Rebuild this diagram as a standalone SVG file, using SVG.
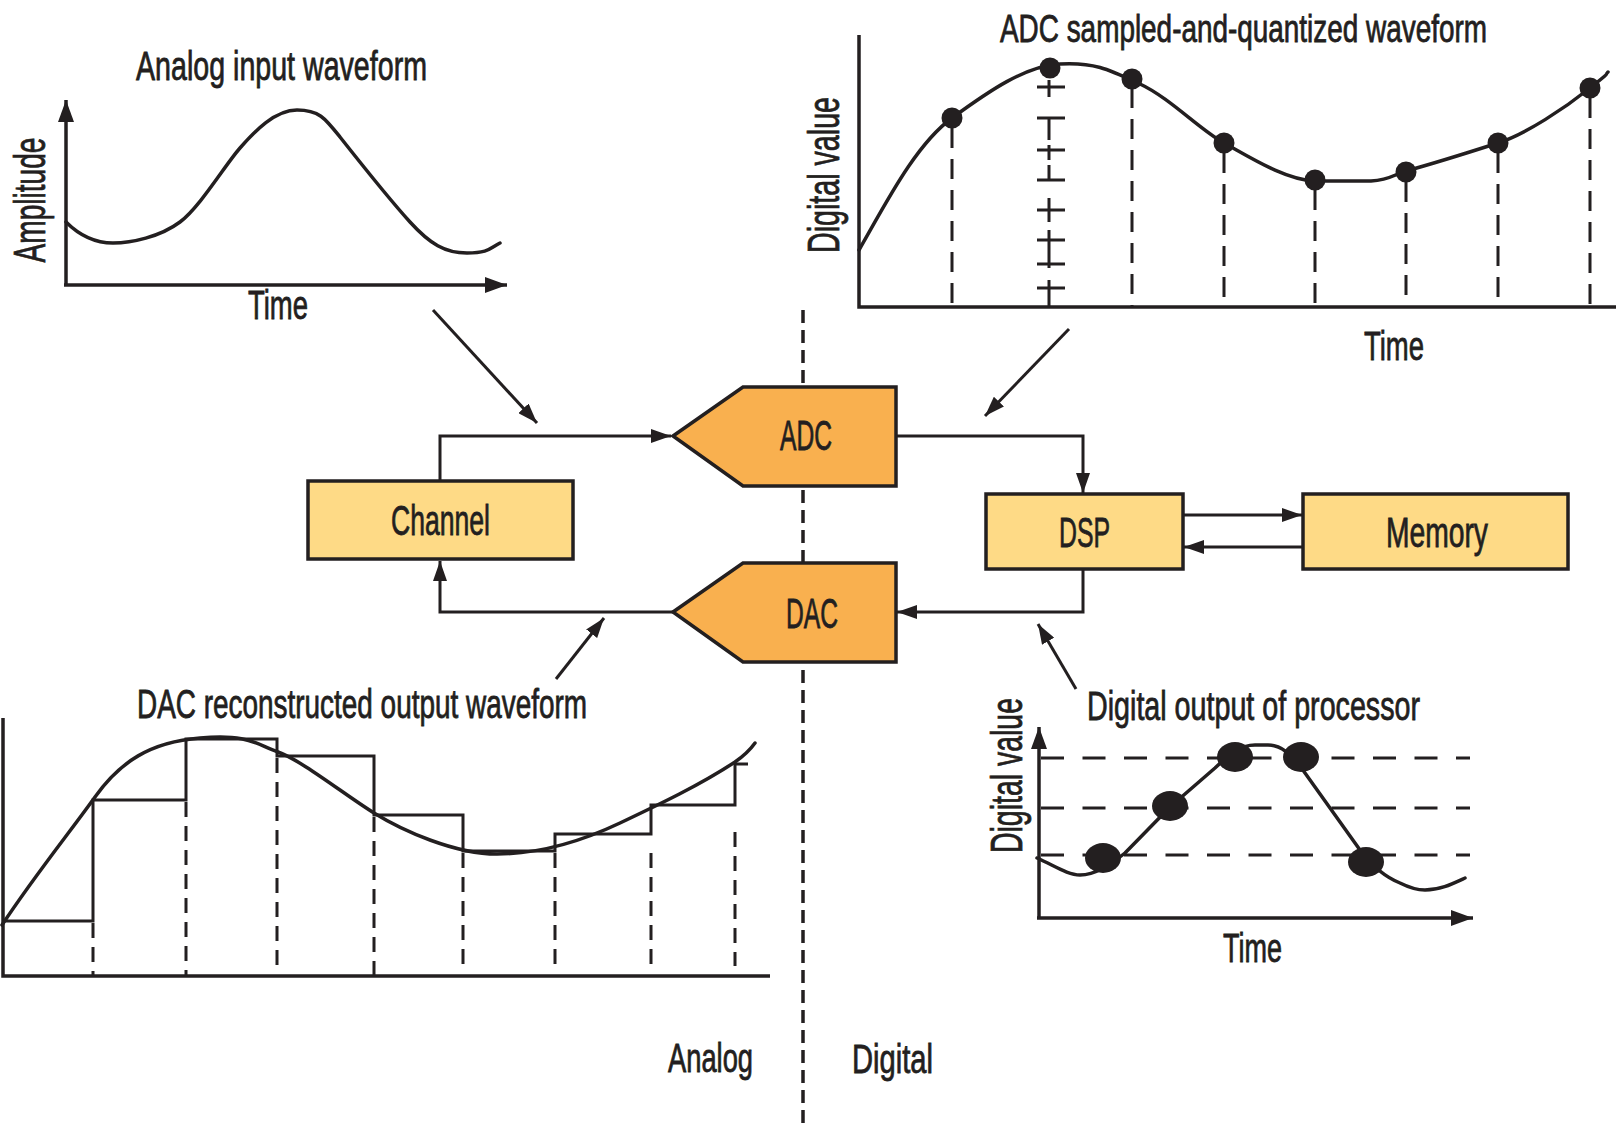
<svg xmlns="http://www.w3.org/2000/svg" width="1623" height="1124" viewBox="0 0 1623 1124">
<style>
.ln{fill:none;stroke:#231F20;stroke-width:3}
.ax{fill:none;stroke:#231F20;stroke-width:3.5}
.wv{fill:none;stroke:#231F20;stroke-width:3.5;stroke-linejoin:round;stroke-linecap:round}
.st{fill:none;stroke:#231F20;stroke-width:3;stroke-linejoin:miter}
.dv{fill:none;stroke:#231F20;stroke-width:3;stroke-dasharray:20 11}
.dd{fill:none;stroke:#231F20;stroke-width:3;stroke-dasharray:15 9}
.dh{fill:none;stroke:#231F20;stroke-width:3;stroke-dasharray:23 18.5}
.div{fill:none;stroke:#231F20;stroke-width:3.5;stroke-dasharray:13 7}
.dot{fill:#231F20}
.t{font-family:"Liberation Sans Narrow","Liberation Sans",Arial,sans-serif;fill:#231F20;stroke:#231F20;stroke-width:0.8;font-size:40px}
.tt{font-size:38px}
.tb{font-size:42px}
.tr{font-size:45px}
.box{fill:#FEDA86;stroke:#231F20;stroke-width:3.5}
.cv{fill:#F9B04F;stroke:#231F20;stroke-width:3.5;stroke-linejoin:miter}
</style>
<defs>
<marker id="arr" viewBox="0 0 20 14" refX="20" refY="7" markerWidth="20" markerHeight="14" markerUnits="userSpaceOnUse" orient="auto"><path d="M0,0 L20,7 L0,14 Z" fill="#231F20"/></marker>
<marker id="axa" viewBox="0 0 22 16" refX="22" refY="8" markerWidth="22" markerHeight="16" markerUnits="userSpaceOnUse" orient="auto"><path d="M0,0 L22,8 L0,16 Z" fill="#231F20"/></marker>
</defs>
<rect width="1623" height="1124" fill="#FFFFFF"/>

<!-- analog/digital divider -->
<g id="divider">
<line class="div" x1="803" y1="310" x2="803" y2="1124"/>
<text class="t" x="710.5" y="1072" text-anchor="middle" textLength="85" lengthAdjust="spacingAndGlyphs">Analog</text>
<text class="t" x="892.5" y="1073" text-anchor="middle" textLength="81" lengthAdjust="spacingAndGlyphs">Digital</text>
</g>

<!-- Analog input waveform graph -->
<g id="analog-input-graph">
<text class="t" x="281.5" y="80" text-anchor="middle" textLength="291" lengthAdjust="spacingAndGlyphs">Analog input waveform</text>
<path class="ax" d="M66,285 V100" marker-end="url(#axa)"/>
<path class="ax" d="M64,285 H507" marker-end="url(#axa)"/>
<path class="wv" d="M66,222 C80,236 95,243 113,243 S160,237 180,222 S225,165 240,148 S275,110 297,110 S325,118 340,137 S390,200 410,222 S445,253 467,253 S490,248 500,243"/>
<text class="t tr" transform="translate(45,200) rotate(-90)" text-anchor="middle" textLength="125" lengthAdjust="spacingAndGlyphs">Amplitude</text>
<text class="t" x="278" y="319" text-anchor="middle" textLength="60" lengthAdjust="spacingAndGlyphs">Time</text>
</g>

<!-- ADC sampled-and-quantized waveform graph -->
<g id="adc-sampled-graph">
<text class="t tt" x="1243.5" y="42" text-anchor="middle" textLength="487" lengthAdjust="spacingAndGlyphs">ADC sampled-and-quantized waveform</text>
<path class="ax" d="M859,35 V307 H1616"/>
<g>
<line class="dv" x1="952" y1="128" x2="952" y2="307"/>
<line class="dv" x1="1132" y1="88" x2="1132" y2="307"/>
<line class="dv" x1="1224" y1="153" x2="1224" y2="307"/>
<line class="dv" x1="1315" y1="190" x2="1315" y2="307"/>
<line class="dv" x1="1406" y1="182" x2="1406" y2="307"/>
<line class="dv" x1="1498" y1="153" x2="1498" y2="307"/>
<line class="dv" x1="1590" y1="98" x2="1590" y2="307"/>
</g>
<path class="ln" d="M1049,80 V97 M1049,118 V140 M1049,145 V160 M1049,165 V180 M1049,198 V222 M1049,230 V268 M1049,280 V307 M1037,87 H1065 M1037,118 H1065 M1037,150 H1065 M1037,180 H1065 M1037,210 H1065 M1037,240 H1065 M1037,264 H1065 M1037,288 H1065"/>
<path class="wv" d="M859,250 C885,205 915,145 952,118 S1025,66 1060,64 S1110,70 1140,84 S1200,130 1224,143 S1285,180 1315,181 L1371,181 C1390,180 1395,174 1406,171 S1470,152 1498,143 S1565,108 1590,88 S1603,77 1608,72"/>
<g class="dot">
<circle cx="952" cy="118" r="10.5"/>
<circle cx="1050" cy="68" r="10.5"/>
<circle cx="1132" cy="79" r="10.5"/>
<circle cx="1224" cy="143" r="10.5"/>
<circle cx="1315" cy="180" r="10.5"/>
<circle cx="1406" cy="172" r="10.5"/>
<circle cx="1498" cy="143" r="10.5"/>
<circle cx="1590" cy="88" r="10.5"/>
</g>
<text class="t tr" transform="translate(839,175) rotate(-90)" text-anchor="middle" textLength="156" lengthAdjust="spacingAndGlyphs">Digital value</text>
<text class="t" x="1394" y="360" text-anchor="middle" textLength="60" lengthAdjust="spacingAndGlyphs">Time</text>
</g>

<!-- DAC reconstructed output waveform graph -->
<g id="dac-output-graph">
<text class="t" x="362" y="718" text-anchor="middle" textLength="450" lengthAdjust="spacingAndGlyphs">DAC reconstructed output waveform</text>
<path class="ax" d="M3,718 V976 H770"/>
<path class="st" d="M2,921 H93 V800 H186 V739 H277 V756 H374 V815 H463 V851 H555 V834 H651 V805 H735 V764 H748"/>
<g>
<line class="dd" x1="93" y1="923" x2="93" y2="976"/>
<line class="dd" x1="186" y1="802" x2="186" y2="976"/>
<line class="dd" x1="277" y1="758" x2="277" y2="970"/>
<line class="dd" x1="374" y1="817" x2="374" y2="976"/>
<line class="dd" x1="463" y1="853" x2="463" y2="970"/>
<line class="dd" x1="555" y1="853" x2="555" y2="970"/>
<line class="dd" x1="651" y1="853" x2="651" y2="970"/>
<line class="dd" x1="735" y1="832" x2="735" y2="966"/>
</g>
<path class="wv" d="M2,925 C35,875 70,832 95,797 S150,742 200,738 S255,744 278,752 S345,795 374,813 S455,854 497,854 S580,842 620,823 S700,785 735,762 C745,755 750,750 755,743"/>
</g>

<!-- Digital output of processor graph -->
<g id="digital-output-graph">
<text class="t" x="1253.5" y="720" text-anchor="middle" textLength="333" lengthAdjust="spacingAndGlyphs">Digital output of processor</text>
<g>
<line class="dh" x1="1041" y1="758" x2="1470" y2="758"/>
<line class="dh" x1="1041" y1="808" x2="1470" y2="808"/>
<line class="dh" x1="1041" y1="855" x2="1470" y2="855"/>
</g>
<path class="ax" d="M1039,918 V727" marker-end="url(#axa)"/>
<path class="ax" d="M1037,918 H1473" marker-end="url(#axa)"/>
<path class="wv" d="M1037,858 C1055,866 1068,875 1080,875 C1095,875 1110,865 1125,853 L1170,807 L1215,768 C1230,754 1240,745 1255,745 L1268,745 C1282,745 1292,756 1300,766 L1360,850 C1372,866 1385,877 1400,883 C1410,888 1418,890 1425,890 C1440,890 1452,884 1465,878"/>
<g class="dot">
<ellipse cx="1103" cy="858" rx="18" ry="15"/>
<ellipse cx="1170" cy="806" rx="18" ry="15"/>
<ellipse cx="1235" cy="757" rx="18" ry="15"/>
<ellipse cx="1301" cy="757" rx="18" ry="15"/>
<ellipse cx="1366" cy="862" rx="18" ry="15"/>
</g>
<text class="t tr" transform="translate(1022,775.5) rotate(-90)" text-anchor="middle" textLength="155" lengthAdjust="spacingAndGlyphs">Digital value</text>
<text class="t" x="1252.5" y="962" text-anchor="middle" textLength="59" lengthAdjust="spacingAndGlyphs">Time</text>
</g>

<!-- connectors -->
<g id="connectors">
<path class="ln" d="M440,481 V436 H671" marker-end="url(#arr)"/>
<path class="ln" d="M673,612 H440 V561" marker-end="url(#arr)"/>
<path class="ln" d="M896,436 H1083 V493" marker-end="url(#arr)"/>
<path class="ln" d="M1083,569 V612 H897" marker-end="url(#arr)"/>
<path class="ln" d="M1183,515 H1302" marker-end="url(#arr)"/>
<path class="ln" d="M1303,547 H1184" marker-end="url(#arr)"/>
<path class="ln" d="M433,310 L537,423" marker-end="url(#arr)"/>
<path class="ln" d="M1069,329 L985,416" marker-end="url(#arr)"/>
<path class="ln" d="M556,679 L604,618" marker-end="url(#arr)"/>
<path class="ln" d="M1076,689 L1038,624" marker-end="url(#arr)"/>
</g>

<!-- nodes -->
<g id="channel">
<rect class="box" x="308" y="481" width="265" height="78"/>
<text class="t tb" x="440.5" y="535" text-anchor="middle" textLength="99" lengthAdjust="spacingAndGlyphs">Channel</text>
</g>
<g id="adc">
<polygon class="cv" points="673,436 743,387 896,387 896,486 743,486"/>
<text class="t tb" x="806" y="450" text-anchor="middle" textLength="52" lengthAdjust="spacingAndGlyphs">ADC</text>
</g>
<g id="dac">
<polygon class="cv" points="673,612 743,563 896,563 896,662 743,662"/>
<text class="t tb" x="812" y="628" text-anchor="middle" textLength="52" lengthAdjust="spacingAndGlyphs">DAC</text>
</g>
<g id="dsp">
<rect class="box" x="986" y="494" width="197" height="75"/>
<text class="t tb" x="1084.5" y="547" text-anchor="middle" textLength="51" lengthAdjust="spacingAndGlyphs">DSP</text>
</g>
<g id="memory">
<rect class="box" x="1303" y="494" width="265" height="75"/>
<text class="t tb" x="1437" y="547" text-anchor="middle" textLength="102" lengthAdjust="spacingAndGlyphs">Memory</text>
</g>
</svg>
